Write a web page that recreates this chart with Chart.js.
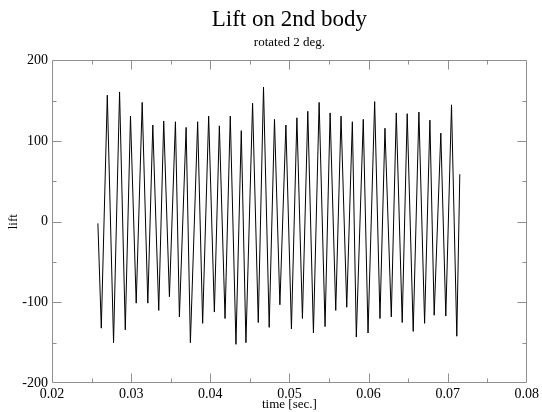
<!DOCTYPE html>
<html>
<head>
<meta charset="utf-8">
<script src="https://cdn.jsdelivr.net/npm/chart.js@4.4.1/dist/chart.umd.min.js"></script>
<style>
  html, body { margin: 0; padding: 0; background: #fff; }
  #wrap { width: 542px; height: 412px; position: relative; }
</style>
</head>
<body>
<div id="wrap"><canvas id="c" width="542" height="412"></canvas></div>
<script>
// ---- data ----
const titleText = "Lift on 2nd body";
const subtitleText = "rotated 2 deg.";
const xAxisTitle = "time [sec.]";
const yAxisTitle = "lift";

const times = [
  0.0258, 0.02623, 0.02699, 0.02778, 0.02854, 0.02926, 0.02992, 0.03064, 0.0314, 0.03211,
  0.03274, 0.03349, 0.03412, 0.03484, 0.0356, 0.0361, 0.03695, 0.03749, 0.03841, 0.03904,
  0.0398, 0.04052, 0.04115, 0.04187, 0.04253, 0.04325, 0.04392, 0.04451, 0.04535, 0.04607,
  0.04673, 0.04745, 0.04812, 0.0488, 0.04956, 0.05026, 0.05095, 0.05165, 0.05233, 0.05304,
  0.05376, 0.05451, 0.05515, 0.05586, 0.05653, 0.05725, 0.05796, 0.05846, 0.05934, 0.05994,
  0.06078, 0.06145, 0.06208, 0.06288, 0.06351, 0.06426, 0.06489, 0.06565, 0.06637, 0.06709,
  0.06776, 0.0683, 0.06914, 0.06977, 0.07049, 0.07116, 0.07154
];
const lift = [
  -2, -132, 157, -150, 161, -134, 131, -101, 148, -101,
  120, -110, 125, -93, 124, -118, 117, -150, 124, -126,
  131, -112, 119, -120, 131, -152, 113, -150, 147, -125,
  167, -131, 127, -103, 120, -133, 129, -120, 137, -138,
  148, -130, 135, -110, 131, -106, 124, -143, 127, -138,
  149, -120, 116, -118, 135, -125, 134, -136, 136, -126,
  126, -116, 110, -117, 145, -142, 59
];

// axis ranges / tick steps
const xRange = [0.02, 0.08];
const yRange = [-200, 200];
const xMajorStep = 0.01, xMinorStep = 0.005;
const yMajorStep = 100, yMinorStep = 50;

const points = times.map((t, i) => ({ x: t, y: lift[i] }));

const SERIF = "'Liberation Serif', 'Times New Roman', serif";
const FRAME = '#8f8f8f';

const frameTicks = {
  id: 'frameTicks',
  afterDatasetsDraw(chart) {
    const { ctx, chartArea: a, scales } = chart;
    const xs = scales.x, ys = scales.y;
    ctx.save();
    ctx.strokeStyle = FRAME;
    ctx.lineWidth = 1;
    const L = Math.round(a.left) + 0.5, R = Math.round(a.right) - 0.5;
    const T = Math.round(a.top) + 0.5, B = Math.round(a.bottom) - 0.5;
    ctx.beginPath();
    ctx.rect(L, T, R - L, B - T);
    ctx.stroke();
    ctx.beginPath();
    const nx = Math.round((xRange[1] - xRange[0]) / xMinorStep);
    for (let i = 1; i < nx; i++) {
      const v = xRange[0] + i * xMinorStep;
      const major = i % Math.round(xMajorStep / xMinorStep) === 0;
      const len = major ? 9 : 4;
      const px = Math.round(xs.getPixelForValue(v)) + 0.5;
      ctx.moveTo(px, B); ctx.lineTo(px, B - len);
      ctx.moveTo(px, T); ctx.lineTo(px, T + len);
    }
    const ny = Math.round((yRange[1] - yRange[0]) / yMinorStep);
    for (let i = 1; i < ny; i++) {
      const v = yRange[0] + i * yMinorStep;
      const major = i % Math.round(yMajorStep / yMinorStep) === 0;
      const len = major ? 9 : 4;
      const py = Math.round(ys.getPixelForValue(v)) + 0.5;
      ctx.moveTo(L, py); ctx.lineTo(L + len, py);
      ctx.moveTo(R, py); ctx.lineTo(R - len, py);
    }
    ctx.stroke();
    ctx.restore();
  }
};

new Chart(document.getElementById('c'), {
  type: 'scatter',
  data: {
    datasets: [{
      data: points,
      showLine: true,
      borderColor: '#000',
      borderWidth: 1,
      pointRadius: 0,
      tension: 0
    }]
  },
  options: {
    responsive: false,
    animation: false,
    devicePixelRatio: 1,
    layout: { padding: { left: 0, right: 14, top: 0, bottom: 0 } },
    plugins: {
      legend: { display: false },
      tooltip: { enabled: false },
      title: {
        display: true, text: titleText, color: '#000', fullSize: false,
        font: { family: SERIF, size: 23, weight: 'normal' },
        padding: { top: 6, bottom: 1 }
      },
      subtitle: {
        display: true, text: subtitleText, color: '#000', fullSize: false,
        font: { family: SERIF, size: 13, weight: 'normal' },
        padding: { top: 0, bottom: 10.3 }
      }
    },
    scales: {
      x: {
        type: 'linear', min: xRange[0], max: xRange[1],
        grid: { display: false, drawTicks: false },
        border: { display: false },
        ticks: {
          stepSize: xMajorStep, color: '#000', padding: 3,
          font: { family: SERIF, size: 14 },
          callback: v => Number(v).toFixed(2)
        },
        title: {
          display: true, text: xAxisTitle, color: '#000',
          font: { family: SERIF, size: 13 },
          padding: { top: 0, bottom: 0 }
        },
        afterFit(s) { s.height = 29; }
      },
      y: {
        type: 'linear', min: yRange[0], max: yRange[1],
        grid: { display: false, drawTicks: false },
        border: { display: false },
        ticks: {
          stepSize: yMajorStep, color: '#000', padding: 4,
          font: { family: SERIF, size: 14 }
        },
        title: {
          display: true, text: yAxisTitle, color: '#000',
          font: { family: SERIF, size: 13 },
          padding: { top: 6, bottom: 0 }
        },
        afterFit(s) { s.width = 52; }
      }
    }
  },
  plugins: [frameTicks]
});
</script>
</body>
</html>
